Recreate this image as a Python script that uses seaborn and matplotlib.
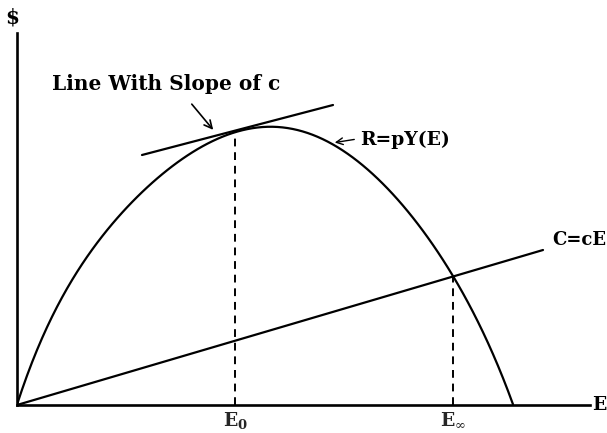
import matplotlib
matplotlib.use("Agg")
import matplotlib.pyplot as plt
import pandas as pd
import seaborn as sns

# Revenue curve R = pY(E)
effort = [0, 13, 28, 45, 63, 83, 103, 123, 143, 170, 196, 218, 243, 270,
          300, 326, 360, 393, 420, 436, 460, 480, 496]
revenue = [0, 37, 75, 107, 138, 165, 190, 210, 229, 250, 265, 274, 277, 275,
           268, 255, 228, 192, 153, 128, 85, 43, 0]

# Cost line C = cE
cost_e = [0, 526]
cost_c = [0, 155]

# Tangent line with slope c
tan_e = [125, 316]
tan_r = [250, 300]

# Equilibrium efforts
e_zero = 218
e_inf = 436

curve_df = pd.DataFrame({'E': effort, 'R': revenue})
cost_df = pd.DataFrame({'E': cost_e, 'C': cost_c})
tan_df = pd.DataFrame({'E': tan_e, 'R': tan_r})

sns.set_style('white')
plt.rcParams['font.family'] = ['DejaVu Serif']
plt.rcParams['mathtext.fontset'] = 'dejavuserif'

fig = plt.figure(figsize=(6.07, 4.33), dpi=100)
ax = fig.add_axes([17 / 607, 28 / 433, 573 / 607, 372 / 433])

lw = 1.6
# smooth revenue curve through the read points
sns.regplot(curve_df, x='E', y='R', ax=ax, order=6, ci=None, scatter=False,
            truncate=True, line_kws=dict(color='black', lw=lw))
sns.lineplot(cost_df, x='E', y='C', ax=ax, color='black', lw=lw)
sns.lineplot(tan_df, x='E', y='R', ax=ax, color='black', lw=lw)

r0 = revenue[effort.index(e_zero)]
rinf = revenue[effort.index(e_inf)]
ax.plot([e_zero, e_zero], [0, r0], color='black', lw=1.4, ls=(0, (4, 3)))
ax.plot([e_inf, e_inf], [0, rinf], color='black', lw=1.4, ls=(0, (4, 3)))

ax.set_xlim(0, 573)
ax.set_ylim(0, 372)
ax.set_xticks([])
ax.set_yticks([])
ax.set_xlabel('')
ax.set_ylabel('')
for side in ['top', 'right']:
    ax.spines[side].set_visible(False)
for side in ['left', 'bottom']:
    ax.spines[side].set_linewidth(1.9)
    ax.spines[side].set_color('black')

kw = dict(fontweight='bold', color='black', clip_on=False)
ax.text(-5, 387, '$', ha='center', va='center', fontsize=14.5, **kw)
ax.text(575, 0, 'E', ha='left', va='center', fontsize=13.5, **kw)
ax.text(35, 315, 'Line With Slope of c', ha='left', va='baseline', fontsize=14.5, **kw)
ax.text(343, 260, 'R=pY(E)', ha='left', va='baseline', fontsize=13.5, **kw)
ax.text(535, 160, 'C=cE', ha='left', va='baseline', fontsize=13, **kw)
ax.text(e_zero, -5, r'$\mathbf{E_0}$', ha='center', va='top', fontsize=13.5, clip_on=False)
ax.text(e_inf, -5, r'$\mathbf{E}_{\infty}$', ha='center', va='top', fontsize=13.5, clip_on=False)

ax.annotate('', xy=(198, 273), xytext=(173, 303),
            arrowprops=dict(arrowstyle='->', color='black', lw=1.2, mutation_scale=14))
ax.annotate('', xy=(315, 262), xytext=(340, 266),
            arrowprops=dict(arrowstyle='->', color='black', lw=1.0, mutation_scale=12))

fig.savefig('out.png', dpi=100)
